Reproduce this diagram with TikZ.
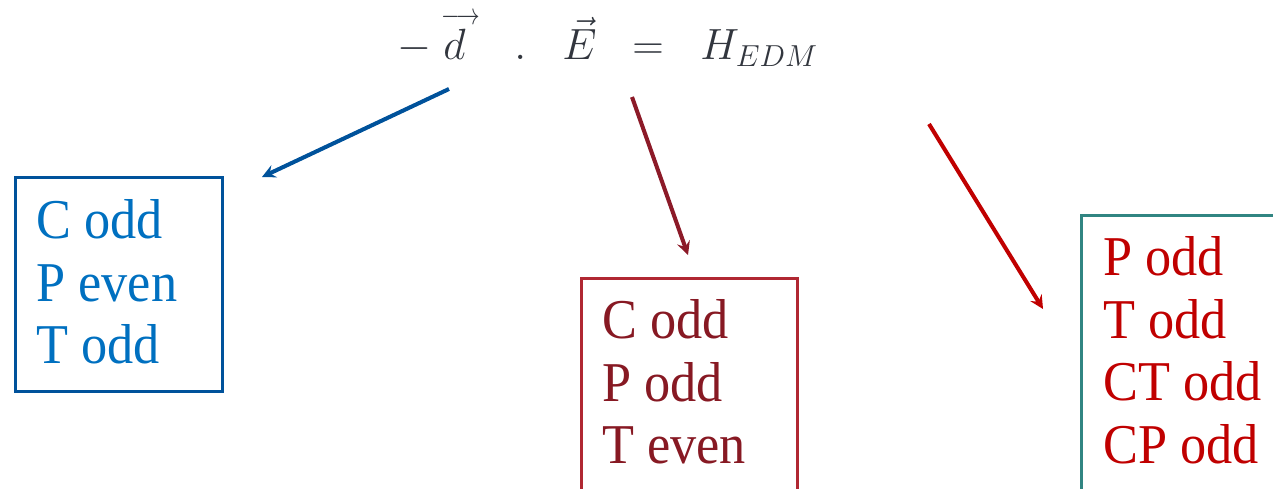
\documentclass[tikz,border=0pt]{standalone}
\usepackage{amsmath}
\usepackage{fontspec}
\setmainfont{Liberation Serif}
\newfontfamily\listfont{Liberation Serif}[FakeStretch=0.93]
\usepackage{xcolor}
\usepackage{tikz}
\usetikzlibrary{arrows}

\definecolor{eqgray}{RGB}{50,54,62}
\definecolor{cblue}{RGB}{0,82,155}
\definecolor{cbluetext}{RGB}{0,112,192}
\definecolor{cmaroon}{RGB}{140,26,40}
\definecolor{cmaroonbox}{RGB}{176,40,50}
\definecolor{cmaroontext}{RGB}{135,25,35}
\definecolor{cred}{RGB}{192,0,0}
\definecolor{cteal}{RGB}{49,133,130}

\begin{document}
\begin{tikzpicture}[x=0.02cm, y=-0.02cm,
    eqn/.style={anchor=base west, inner sep=0pt, text=eqgray, font=\fontsize{26}{30}\selectfont},
    frame/.style={draw, anchor=north west, inner sep=0pt, line width=1.7pt},
    list/.style={anchor=north west, align=left, inner sep=0pt, font=\listfont\fontsize{32}{35.7}\selectfont},
    link/.style={->, >=stealth, line width=2.3pt}]

    \useasboundingbox (0,0) rectangle (1273,489);
    \clip (0,0) rectangle (1273,489);

    % the equation
    \node [eqn] (minus) at (397,60) {$-$};
    \node [eqn] (dvec) at (443,60) {$\rlap{\hspace{-1pt}\raisebox{20pt}{\scalebox{0.78}[1]{$\scriptstyle\longrightarrow$}}}d$};
    \node [eqn] (dot) at (514,60) {$.$};
    \node [eqn] (evec) at (562,60) {$\vec{E}$};
    \node [eqn] (eq) at (632,60) {$=$};
    \node [eqn] (ham) at (700,60) {$H_{EDM}$};

    % boxes
    \node [frame, draw=cblue, minimum width=4.14cm, minimum height=4.28cm] (cbox) at (14,176) {};
    \node [list, text=cbluetext] (clist) at (36,199) {C odd\\P even\\T odd};

    \node [frame, draw=cmaroonbox, minimum width=4.32cm, minimum height=5cm] (mbox) at (580,277) {};
    \node [list, text=cmaroontext] (mlist) at (602,299) {C odd\\P odd\\T even};

    \node [frame, draw=cteal, minimum width=4.6cm, minimum height=6.2cm] (rbox) at (1080,214) {};
    \node [list, text=cred] (rlist) at (1103,236) {P odd\\T odd\\CT odd\\CP odd};

    % arrows
    \coordinate (a1) at (449,89);
    \coordinate (b1) at (262,177);
    \coordinate (a2) at (632,97);
    \coordinate (b2) at (688,255);
    \coordinate (a3) at (929,124);
    \coordinate (b3) at (1043,309);

    \draw [link, cblue] (a1) -- (b1);
    \draw [link, cmaroon] (a2) -- (b2);
    \draw [link, cred] (a3) -- (b3);
\end{tikzpicture}
\end{document}
